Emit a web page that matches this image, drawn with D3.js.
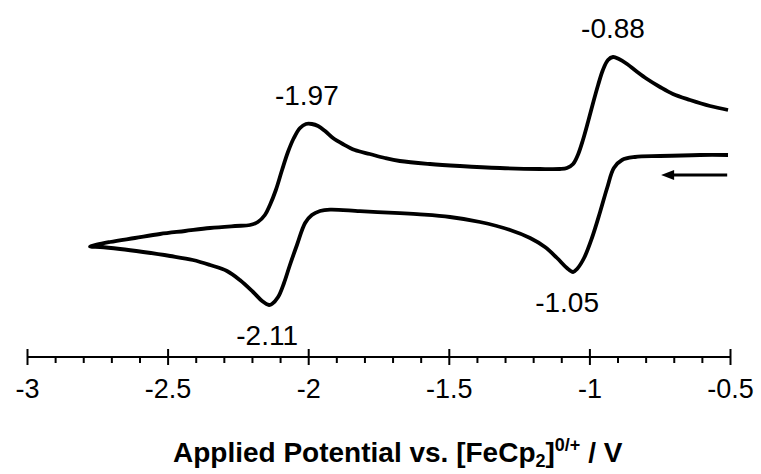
<!DOCTYPE html>
<html><head><meta charset="utf-8">
<script src="https://cdn.jsdelivr.net/npm/d3@7"></script>
<style>
html,body{margin:0;padding:0;background:#fff;}
svg{display:block;}
text{font-family:"Liberation Sans",Arial,Helvetica,sans-serif;fill:#000;}
</style></head>
<body>
<svg id="chart" width="761" height="474"></svg>
<script>
// Potential (V vs FeCp2) for the forward scan (starting at -0.5 V, going negative)
const forwardE = [-0.507,-0.607,-0.749,-0.838,-0.884,-0.913,-0.937,-0.962,-0.991,-1.019,-1.044,-1.058,-1.080,-1.115,-1.158,-1.211,-1.282,-1.389,-1.496,-1.602,-1.674,-1.816,-1.922,-1.958,-1.987,-2.011,-2.040,-2.065,-2.086,-2.107,-2.129,-2.139,-2.164,-2.196,-2.243,-2.289,-2.349,-2.410,-2.491,-2.587,-2.669,-2.740,-2.776];
const forwardI = [2.25,2.25,2.2,2.15,2.0,1.6,0.6,-0.6,-1.9,-2.9,-3.45,-3.6,-3.4,-2.9,-2.35,-1.9,-1.5,-1.1,-0.85,-0.72,-0.66,-0.56,-0.48,-0.55,-0.75,-1.15,-2.25,-3.25,-4.15,-4.85,-5.2,-5.25,-5.05,-4.6,-4.0,-3.55,-3.25,-3.0,-2.8,-2.6,-2.45,-2.35,-2.33];
// Return scan (from the switching potential back to -0.5 V)
const returnE = [-2.776,-2.705,-2.616,-2.527,-2.438,-2.349,-2.260,-2.207,-2.179,-2.154,-2.136,-2.115,-2.093,-2.072,-2.051,-2.029,-2.008,-1.987,-1.965,-1.940,-1.912,-1.877,-1.834,-1.781,-1.727,-1.674,-1.567,-1.460,-1.318,-1.176,-1.105,-1.080,-1.058,-1.041,-1.023,-1.005,-0.987,-0.969,-0.952,-0.934,-0.916,-0.895,-0.866,-0.834,-0.795,-0.749,-0.703,-0.642,-0.571,-0.507];
const returnI = [-2.3,-2.1,-1.9,-1.7,-1.55,-1.4,-1.3,-1.25,-1.1,-0.75,-0.25,0.5,1.5,2.4,3.1,3.6,3.8,3.8,3.7,3.45,3.1,2.8,2.5,2.3,2.1,1.95,1.8,1.7,1.6,1.55,1.55,1.6,1.8,2.25,3.0,3.9,4.85,5.75,6.5,7.0,7.15,7.05,6.8,6.45,6.05,5.65,5.3,5.0,4.7,4.5];
// Peak annotations
const peakLabels = ["-0.88","-1.97","-2.11","-1.05"];
const peakE = [-0.916,-1.987,-2.139,-1.058];
const peakI = [7.15,3.8,-5.25,-3.6];
const peakSide = ["above","above","below","below"];
// Axis
const majorTicks = [-3,-2.5,-2,-1.5,-1,-0.5];
const minorTicks = [-2.9,-2.8,-2.7,-2.6,-2.4,-2.3,-2.2,-2.1,-1.9,-1.8,-1.7,-1.6,-1.4,-1.3,-1.2,-1.1,-0.9,-0.8,-0.7,-0.6];
const xTitle = "Applied Potential vs. [FeCp";
// arrow showing scan direction (potential span)
const arrowE = [-0.51,-0.745];
const arrowI = [1.25,1.25];

const svg = d3.select("#chart");
const x = d3.scaleLinear().domain([-3,-0.5]).range([27,730]);
const y = d3.scaleLinear().domain([0,10]).range([200,0]);
const axisY = 357;

const line = d3.line().x(d=>x(d[0])).y(d=>y(d[1])).curve(d3.curveCatmullRom.alpha(0.5));
const pts = forwardE.map((e,i)=>[e,forwardI[i]]).concat(returnE.map((e,i)=>[e,returnI[i]]).slice(1));
svg.append("path").attr("d",line(pts)).attr("fill","none").attr("stroke","#000")
  .attr("stroke-width",3.8).attr("stroke-linejoin","round").attr("stroke-linecap","butt");

// arrow
const ax0 = x(arrowE[0]), ax1 = x(arrowE[1]), ay = y(arrowI[0]);
svg.append("line").attr("x1",ax0).attr("x2",ax1+8).attr("y1",ay).attr("y2",ay)
  .attr("stroke","#000").attr("stroke-width",2.8);
svg.append("path").attr("d",`M${ax1},${ay} L${ax1+13},${ay-5} L${ax1+13},${ay+5} Z`).attr("fill","#000");

// peak labels
peakLabels.forEach((t,i)=>{
  const px = x(peakE[i]), py = y(peakI[i]);
  const dx = [0,-5,-2,-6][i];
  svg.append("text").attr("x",px+dx).attr("y", peakSide[i]==="above" ? py-19 : py+40)
    .attr("text-anchor","middle").attr("font-size",28).text(t);
});

// axis
const gMinor = svg.append("g").attr("transform",`translate(0,${axisY})`)
  .call(d3.axisBottom(x).tickValues(minorTicks).tickSize(6).tickFormat(""));
const gMajor = svg.append("g").attr("transform",`translate(0,${axisY})`)
  .call(d3.axisBottom(x).tickValues(majorTicks).tickSize(8).tickPadding(14).tickFormat(d=>String(d)));
[gMinor,gMajor].forEach(g=>{
  g.select(".domain").attr("stroke","#000").attr("stroke-width",2.2).attr("d",`M${x(-3)},0H${x(-0.5)}`);
  g.selectAll(".tick line").attr("stroke","#000").attr("stroke-width",2);
});
gMajor.selectAll(".tick line").attr("y1",-8).attr("y2",8);
gMajor.selectAll(".tick text").attr("font-size",27).attr("font-family","Liberation Sans, Arial, sans-serif").attr("fill","#000");

// x title
const tt = svg.append("text").attr("x",173).attr("y",462).attr("font-size",28).attr("font-weight","bold");
tt.append("tspan").text(xTitle);
tt.append("tspan").attr("font-size",18).attr("dy",5).text("2");
tt.append("tspan").attr("dy",-5).text("]");
tt.append("tspan").attr("font-size",18).attr("dy",-11).text("0/+");
tt.append("tspan").attr("dy",11).text(" / V");
</script>
</body></html>
